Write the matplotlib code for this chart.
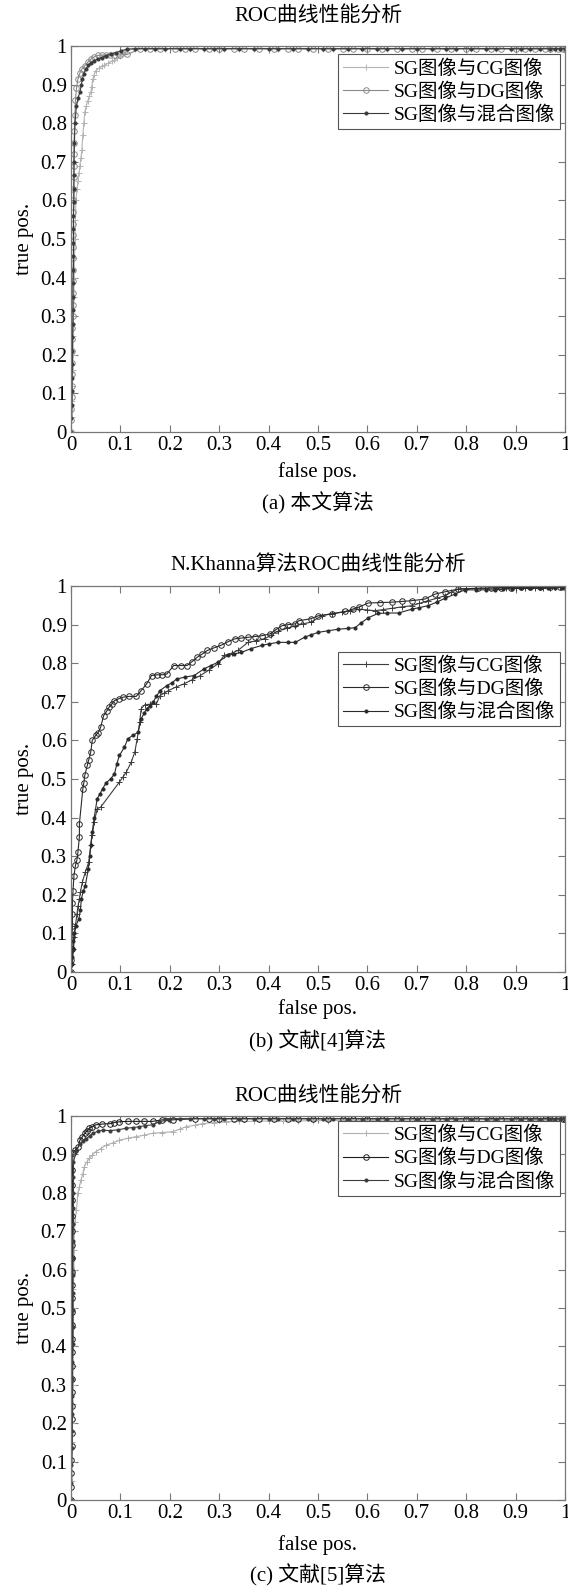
import numpy as np
import matplotlib
matplotlib.use("Agg")
from matplotlib import pyplot as plt

plt.rcParams['font.family'] = ['Liberation Serif', 'Noto Sans CJK SC']
plt.rcParams['axes.unicode_minus'] = False

# ---------------- data ----------------
labels = ['SG图像与CG图像', 'SG图像与DG图像', 'SG图像与混合图像']
titles = ['ROC曲线性能分析', 'N.Khanna算法ROC曲线性能分析', 'ROC曲线性能分析']
captions = ['(a) 本文算法', '(b) 文献[4]算法', '(c) 文献[5]算法']
ticks = [0, 0.1, 0.2, 0.3, 0.4, 0.5, 0.6, 0.7, 0.8, 0.9, 1]
tick_labels = ['0', '0.1', '0.2', '0.3', '0.4', '0.5', '0.6', '0.7', '0.8', '0.9', '1']

# flat tops, fpr positions of the markers
top_1 = [0.13, 0.15, 0.17, 0.19, 0.22, 0.24, 0.27, 0.29, 0.31, 0.34, 0.37, 0.40, 0.42,
         0.45, 0.48, 0.51, 0.53, 0.56, 0.59, 0.62, 0.64, 0.67, 0.70, 0.73, 0.76, 0.78,
         0.81, 0.84, 0.86, 0.89, 0.91, 0.93, 0.95, 0.97, 0.98, 0.99, 1.0]
top_2 = [0.14, 0.16, 0.18, 0.21, 0.23, 0.25, 0.28, 0.30, 0.33, 0.35, 0.38, 0.41, 0.44,
         0.46, 0.49, 0.52, 0.55, 0.57, 0.60, 0.63, 0.66, 0.69, 0.71, 0.74, 0.77, 0.80,
         0.82, 0.85, 0.87, 0.90, 0.92, 0.94, 0.96, 0.97, 0.985, 0.995, 1.0]

# (a) this paper
a_cg_fpr = [0, 0.002, 0.003, 0.003, 0.004, 0.004, 0.005, 0.005, 0.006, 0.006, 0.007, 0.008,
            0.009, 0.010, 0.012, 0.014, 0.016, 0.018, 0.020, 0.022, 0.024, 0.026, 0.028,
            0.031, 0.034, 0.037, 0.040, 0.042, 0.044, 0.047, 0.050, 0.056, 0.062, 0.067,
            0.075, 0.082, 0.087, 0.094, 0.100, 0.107, 0.114] + top_1
a_cg_tpr = [0, 0.04, 0.08, 0.12, 0.16, 0.20, 0.25, 0.30, 0.35, 0.40, 0.45, 0.50, 0.55, 0.60,
            0.63, 0.65, 0.67, 0.69, 0.71, 0.73, 0.77, 0.80, 0.83, 0.845, 0.858, 0.87, 0.88,
            0.895, 0.914, 0.925, 0.936, 0.942, 0.947, 0.950, 0.955, 0.960, 0.963, 0.968,
            0.975, 0.983, 0.990] + [0.993] * len(top_1)
a_dg_fpr = [0, 0.001, 0.001, 0.002, 0.002, 0.002, 0.003, 0.003, 0.003, 0.003, 0.004, 0.004,
            0.004, 0.004, 0.004, 0.005, 0.005, 0.005, 0.005, 0.005, 0.005, 0.005, 0.006,
            0.006, 0.006, 0.006, 0.007, 0.008, 0.009, 0.011, 0.014, 0.018, 0.022, 0.028,
            0.034, 0.040, 0.047, 0.055, 0.062, 0.070, 0.078, 0.088, 0.100, 0.114] + top_2
a_dg_tpr = [0, 0.03, 0.06, 0.09, 0.12, 0.15, 0.18, 0.21, 0.24, 0.27, 0.30, 0.33, 0.36, 0.39,
            0.42, 0.45, 0.48, 0.51, 0.54, 0.57, 0.60, 0.63, 0.66, 0.69, 0.72, 0.75, 0.78,
            0.82, 0.86, 0.89, 0.914, 0.93, 0.94, 0.949, 0.958, 0.966, 0.972, 0.976, 0.976,
            0.976, 0.977, 0.977, 0.977, 0.978] + [0.993] * len(top_2)
a_mx_fpr = [0, 0.001, 0.002, 0.002, 0.002, 0.003, 0.003, 0.003, 0.004, 0.004, 0.004, 0.004,
            0.005, 0.005, 0.005, 0.005, 0.005, 0.006, 0.006, 0.006, 0.006, 0.007, 0.008,
            0.011, 0.014, 0.018, 0.021, 0.023, 0.026, 0.030, 0.035, 0.040, 0.047, 0.054,
            0.062, 0.071, 0.080, 0.091, 0.102, 0.114] + top_1
a_mx_tpr = [0, 0.035, 0.07, 0.105, 0.14, 0.175, 0.21, 0.245, 0.28, 0.315, 0.35, 0.385, 0.42,
            0.455, 0.49, 0.525, 0.56, 0.595, 0.63, 0.665, 0.70, 0.75, 0.80, 0.845, 0.865,
            0.88, 0.90, 0.914, 0.928, 0.94, 0.95, 0.957, 0.962, 0.966, 0.970, 0.975, 0.979,
            0.983, 0.988, 0.992] + [0.993] * len(top_1)

# (b) reference [4], N.Khanna
b_cg_fpr = [0, 0.002, 0.005, 0.007, 0.009, 0.012, 0.014, 0.017, 0.019, 0.023, 0.029, 0.036,
            0.040, 0.043, 0.047, 0.053, 0.060, 0.098, 0.105, 0.112, 0.122, 0.129, 0.134,
            0.139, 0.142, 0.149, 0.160, 0.173, 0.180, 0.188, 0.197, 0.212, 0.228, 0.245,
            0.262, 0.280, 0.297, 0.310, 0.325, 0.338, 0.358, 0.375, 0.392, 0.405, 0.420,
            0.437, 0.454, 0.470, 0.485, 0.508, 0.528, 0.548, 0.565, 0.582, 0.600, 0.615,
            0.632, 0.649, 0.670, 0.690, 0.705, 0.723, 0.740, 0.757, 0.770, 0.784, 0.800,
            0.820, 0.838, 0.86, 0.88, 0.90, 0.92, 0.94, 0.955, 0.97, 0.98, 0.99, 1.0]
b_cg_tpr = [0, 0.02, 0.06, 0.09, 0.12, 0.15, 0.17, 0.19, 0.207, 0.233, 0.259, 0.285, 0.328,
            0.354, 0.388, 0.423, 0.427, 0.492, 0.505, 0.518, 0.544, 0.569, 0.604, 0.647,
            0.682, 0.692, 0.694, 0.695, 0.716, 0.722, 0.729, 0.738, 0.746, 0.757, 0.768,
            0.783, 0.798, 0.820, 0.826, 0.833, 0.854, 0.858, 0.863, 0.873, 0.884, 0.890,
            0.897, 0.902, 0.906, 0.923, 0.928, 0.932, 0.936, 0.940, 0.938, 0.936, 0.939,
            0.942, 0.946, 0.949, 0.955, 0.962, 0.968, 0.975, 0.984, 0.992, 0.993, 0.994,
            0.994, 0.995, 0.995, 0.995, 0.996, 0.996, 0.996, 0.996, 0.997, 0.997, 0.997]
b_dg_fpr = [0, 0.001, 0.002, 0.002, 0.003, 0.003, 0.003, 0.004, 0.006, 0.009, 0.012, 0.014,
            0.017, 0.017, 0.024, 0.026, 0.028, 0.033, 0.036, 0.040, 0.043, 0.050, 0.055,
            0.060, 0.066, 0.072, 0.077, 0.083, 0.088, 0.097, 0.105, 0.118, 0.132, 0.142,
            0.153, 0.163, 0.175, 0.185, 0.194, 0.208, 0.222, 0.235, 0.245, 0.255, 0.266,
            0.276, 0.290, 0.303, 0.317, 0.331, 0.345, 0.358, 0.372, 0.386, 0.403, 0.415,
            0.427, 0.440, 0.454, 0.461, 0.485, 0.501, 0.528, 0.555, 0.570, 0.582, 0.602,
            0.625, 0.649, 0.670, 0.690, 0.716, 0.737, 0.757, 0.784, 0.824, 0.85, 0.87,
            0.89, 0.91, 0.93, 0.95, 0.97, 0.99, 1.0]
b_dg_tpr = [0, 0.03, 0.06, 0.09, 0.12, 0.15, 0.18, 0.21, 0.25, 0.276, 0.29, 0.31, 0.35,
            0.384, 0.475, 0.49, 0.51, 0.535, 0.55, 0.57, 0.60, 0.613, 0.62, 0.634, 0.664,
            0.675, 0.686, 0.695, 0.703, 0.708, 0.712, 0.714, 0.714, 0.729, 0.746, 0.768,
            0.770, 0.770, 0.772, 0.794, 0.794, 0.794, 0.804, 0.815, 0.824, 0.833, 0.840,
            0.846, 0.855, 0.863, 0.865, 0.867, 0.869, 0.871, 0.876, 0.887, 0.897, 0.900,
            0.902, 0.910, 0.915, 0.923, 0.928, 0.934, 0.940, 0.945, 0.956, 0.957, 0.958,
            0.960, 0.962, 0.966, 0.979, 0.985, 0.992, 0.994, 0.995, 0.996, 0.996, 0.997,
            0.997, 0.997, 0.998, 0.998, 0.998]
b_mx_fpr = [0, 0.002, 0.003, 0.004, 0.005, 0.006, 0.010, 0.016, 0.019, 0.021, 0.025, 0.029,
            0.035, 0.038, 0.040, 0.043, 0.047, 0.053, 0.058, 0.064, 0.071, 0.080, 0.088,
            0.093, 0.098, 0.108, 0.115, 0.125, 0.136, 0.142, 0.148, 0.153, 0.160, 0.166,
            0.173, 0.180, 0.194, 0.205, 0.214, 0.230, 0.249, 0.269, 0.283, 0.297, 0.317,
            0.330, 0.345, 0.365, 0.386, 0.400, 0.420, 0.440, 0.454, 0.474, 0.485, 0.501,
            0.520, 0.541, 0.560, 0.575, 0.588, 0.602, 0.622, 0.640, 0.663, 0.690, 0.705,
            0.723, 0.740, 0.757, 0.777, 0.797, 0.820, 0.840, 0.858, 0.875, 0.892, 0.91,
            0.93, 0.95, 0.965, 0.98, 0.993, 1.0]
b_mx_tpr = [0, 0.02, 0.04, 0.06, 0.08, 0.10, 0.12, 0.138, 0.16, 0.19, 0.21, 0.224, 0.267,
            0.30, 0.33, 0.362, 0.40, 0.449, 0.46, 0.475, 0.49, 0.50, 0.513, 0.54, 0.561,
            0.582, 0.604, 0.613, 0.621, 0.656, 0.670, 0.682, 0.690, 0.699, 0.714, 0.729,
            0.742, 0.750, 0.759, 0.764, 0.768, 0.785, 0.794, 0.802, 0.82, 0.824, 0.828,
            0.838, 0.846, 0.850, 0.854, 0.854, 0.854, 0.868, 0.873, 0.880, 0.884, 0.888,
            0.890, 0.892, 0.905, 0.918, 0.929, 0.930, 0.930, 0.940, 0.944, 0.949, 0.958,
            0.968, 0.979, 0.990, 0.990, 0.990, 0.990, 0.992, 0.993, 0.994, 0.995, 0.995,
            0.996, 0.996, 0.996, 0.997]

# (c) reference [5]
c_cg_fpr = [0, 0.002, 0.002, 0.003, 0.003, 0.004, 0.004, 0.004, 0.005, 0.005, 0.005, 0.005,
            0.006, 0.006, 0.007, 0.008, 0.011, 0.014, 0.017, 0.020, 0.024, 0.027, 0.032,
            0.037, 0.043, 0.050, 0.060, 0.071, 0.085, 0.098, 0.115, 0.131, 0.148, 0.165,
            0.185, 0.206, 0.220, 0.233, 0.250, 0.266, 0.290, 0.313, 0.34, 0.37, 0.40,
            0.43, 0.46, 0.49, 0.52, 0.55, 0.58, 0.61, 0.64, 0.67, 0.70, 0.73, 0.76, 0.79,
            0.82, 0.85, 0.88, 0.91, 0.94, 0.96, 0.98, 1.0]
c_cg_tpr = [0, 0.05, 0.10, 0.15, 0.20, 0.25, 0.30, 0.35, 0.40, 0.45, 0.50, 0.55, 0.60, 0.65,
            0.70, 0.725, 0.755, 0.80, 0.815, 0.833, 0.850, 0.868, 0.88, 0.89, 0.898, 0.907,
            0.915, 0.924, 0.930, 0.937, 0.942, 0.946, 0.950, 0.955, 0.957, 0.959, 0.966,
            0.972, 0.976, 0.980, 0.983, 0.985, 0.986, 0.986, 0.987, 0.987, 0.987, 0.988,
            0.988, 0.988, 0.988, 0.989, 0.989, 0.989, 0.989, 0.989, 0.990, 0.990, 0.990,
            0.990, 0.990, 0.990, 0.990, 0.990, 0.990, 0.990]
c_dg_fpr = [0, 0.001, 0.001, 0.001, 0.002, 0.002, 0.002, 0.002, 0.003, 0.003, 0.003, 0.003,
            0.003, 0.003, 0.003, 0.003, 0.003, 0.003, 0.003, 0.003, 0.003, 0.003, 0.003,
            0.003, 0.003, 0.004, 0.009, 0.015, 0.018, 0.023, 0.028, 0.033, 0.037, 0.043,
            0.050, 0.063, 0.078, 0.088, 0.098, 0.115, 0.131, 0.148, 0.165, 0.185,
            0.206] + top_2[5:]
c_dg_tpr = [0, 0.035, 0.07, 0.105, 0.14, 0.175, 0.21, 0.245, 0.28, 0.315, 0.35, 0.385, 0.42,
            0.455, 0.49, 0.525, 0.56, 0.595, 0.63, 0.665, 0.70, 0.74, 0.78, 0.82, 0.86,
            0.904, 0.912, 0.92, 0.937, 0.946, 0.955, 0.962, 0.968, 0.972, 0.977, 0.979, 0.98,
            0.983, 0.985, 0.986, 0.986, 0.986, 0.986, 0.99, 0.99] + [0.993] * len(top_2[5:])
c_mx_fpr = [0, 0.001, 0.001, 0.002, 0.002, 0.003, 0.003, 0.003, 0.003, 0.004, 0.004, 0.004,
            0.004, 0.004, 0.004, 0.004, 0.005, 0.005, 0.005, 0.005, 0.005, 0.011, 0.018,
            0.025, 0.031, 0.038, 0.044, 0.054, 0.064, 0.078, 0.095, 0.111, 0.125, 0.138,
            0.150, 0.165, 0.178, 0.199] + top_1[3:]
c_mx_tpr = [0, 0.045, 0.09, 0.135, 0.18, 0.225, 0.27, 0.315, 0.36, 0.405, 0.45, 0.495, 0.54,
            0.585, 0.63, 0.675, 0.72, 0.76, 0.80, 0.84, 0.88, 0.91, 0.928, 0.935, 0.941,
            0.948, 0.955, 0.96, 0.963, 0.962, 0.964, 0.968, 0.970, 0.972, 0.975, 0.977,
            0.985, 0.99] + [0.993] * len(top_1[3:])

panels = [
    [(a_cg_fpr, a_cg_tpr), (a_dg_fpr, a_dg_tpr), (a_mx_fpr, a_mx_tpr)],
    [(b_cg_fpr, b_cg_tpr), (b_dg_fpr, b_dg_tpr), (b_mx_fpr, b_mx_tpr)],
    [(c_cg_fpr, c_cg_tpr), (c_dg_fpr, c_dg_tpr), (c_mx_fpr, c_mx_tpr)],
]

# ---------------- styling / layout ----------------
W, H = 568, 1592
colors = [['#b4b4b4', '#8a8a8a', '#3a3a3a'],
          ['#3c3c3c', '#2a2a2a', '#2a2a2a'],
          ['#b0b0b0', '#1e1e1e', '#3c3c3c']]
markers = ['+', 'o', '.']
msizes = [5, 4, 4.5]

# axes boxes in pixels: (top, bottom)
boxes = [(46, 432), (586, 972), (1116, 1500)]
left_px, right_px = 71, 565
title_y = [17, 566, 1097]
xlabel_y = [472, 1009, 1545]
caption_y = [503, 1041, 1575]
legend_top = [0.978, 0.83, 0.987]

fs = 15
fig = plt.figure(figsize=(W / 100, H / 100), dpi=100)
xc = (left_px + right_px) / 2 / W

for i in range(3):
    top, bot = boxes[i]
    ax = fig.add_axes([left_px / W, 1 - bot / H, (right_px - left_px) / W, (bot - top) / H])
    for j, (fx, ty) in enumerate(panels[i]):
        ax.plot(fx, ty, color=colors[i][j], lw=0.8, marker=markers[j], ms=msizes[j],
                mfc='none' if markers[j] == 'o' else colors[i][j], mew=0.7,
                label=labels[j])
    ax.set_xlim(0, 1)
    ax.set_ylim(0, 1)
    ax.set_xticks(ticks)
    ax.set_xticklabels(tick_labels)
    ax.set_yticks(ticks)
    ax.set_yticklabels(tick_labels)
    ax.tick_params(direction='in', length=5, width=0.8, color='#777777', labelsize=fs,
                   top=True, right=True, pad=3)
    for s in ax.spines.values():
        s.set_color('#777777')
        s.set_linewidth(0.9)
    ax.set_ylabel('true pos.', fontsize=fs, labelpad=5)
    leg = ax.legend(loc='upper right', bbox_to_anchor=(0.99, legend_top[i]),
                    borderaxespad=0, fontsize=14, handlelength=2.3, labelspacing=0.25,
                    borderpad=0.25, handletextpad=0.3, fancybox=False, framealpha=1)
    leg.get_frame().set_edgecolor('#555555')
    leg.get_frame().set_linewidth(0.8)

    fig.text(xc, 1 - title_y[i] / H, titles[i], ha='center', va='center', fontsize=fs)
    fig.text(xc, 1 - xlabel_y[i] / H, 'false pos.', ha='center', va='center', fontsize=fs)
    fig.text(xc, 1 - caption_y[i] / H, captions[i], ha='center', va='center', fontsize=fs)

fig.savefig('out.png', dpi=100)
